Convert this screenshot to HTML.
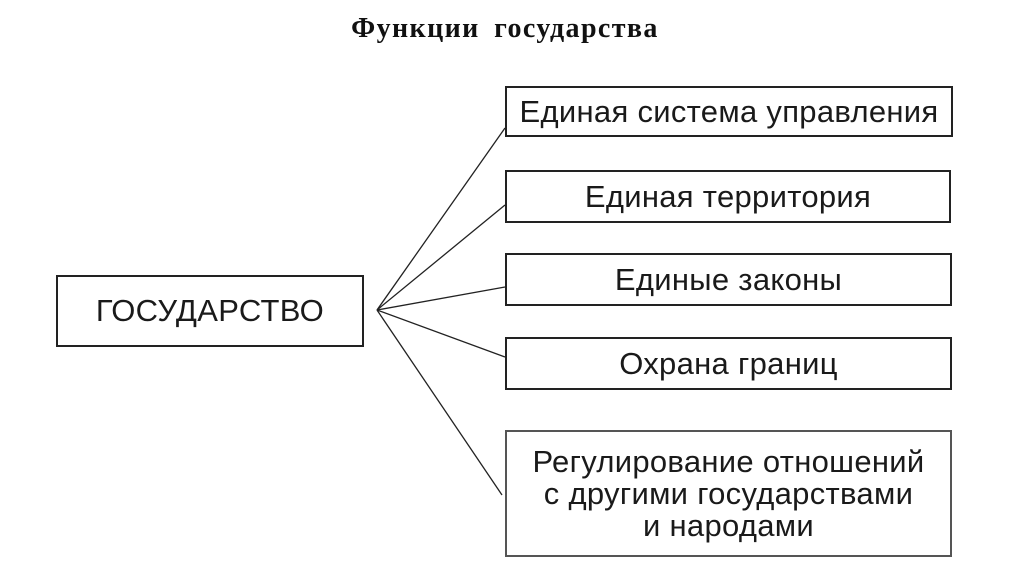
<!DOCTYPE html>
<html><head><meta charset="utf-8"><style>
body{margin:0;width:1024px;height:574px;background:#fff;overflow:hidden;position:relative;font-family:"Liberation Sans",Arial,sans-serif;}
.t{position:absolute;left:0;width:1010px;top:13px;text-align:center;font-family:"Liberation Serif",serif;font-weight:bold;font-size:28px;color:#111;letter-spacing:1.4px;word-spacing:6px}
.b{position:absolute;border:2px solid #222;box-sizing:border-box;display:flex;align-items:center;justify-content:center;text-align:center;font-size:31px;letter-spacing:0.3px;color:#1a1a1a;line-height:32px}
svg{position:absolute;left:0;top:0}
</style></head><body>
<div class="t">Функции государства</div>
<svg width="1024" height="574"><g stroke="#222" stroke-width="1.3" fill="none">
<line x1="377" y1="310" x2="505" y2="128"/>
<line x1="377" y1="310" x2="505" y2="205"/>
<line x1="377" y1="310" x2="505" y2="287"/>
<line x1="377" y1="310" x2="505" y2="357"/>
<line x1="377" y1="310" x2="502" y2="495"/>
</g></svg>
<div class="b" style="left:56px;top:275px;width:308px;height:72px">ГОСУДАРСТВО</div>
<div class="b" style="left:505px;top:86px;width:448px;height:51px">Единая система управления</div>
<div class="b" style="left:505px;top:170px;width:446px;height:53px">Единая территория</div>
<div class="b" style="left:505px;top:253px;width:447px;height:53px">Единые законы</div>
<div class="b" style="left:505px;top:337px;width:447px;height:53px">Охрана границ</div>
<div class="b" style="left:505px;top:430px;width:447px;height:127px;border-color:#555">Регулирование отношений<br>с другими государствами<br>и народами</div>
</body></html>
